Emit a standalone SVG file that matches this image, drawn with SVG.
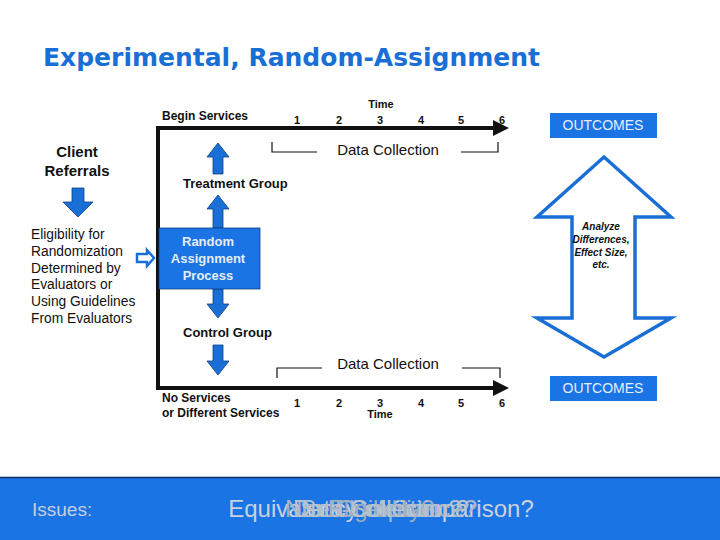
<svg xmlns="http://www.w3.org/2000/svg" width="720" height="540" viewBox="0 0 720 540">
<defs>
<style>
.title{font-family:"DejaVu Sans",sans-serif;font-weight:bold;font-size:24px;fill:#1a6fd6}
.b{font-family:"Liberation Sans",Arial,sans-serif;font-weight:bold;fill:#111}
.r{font-family:"Liberation Sans",Arial,sans-serif;fill:#111}
.ax{stroke:#111;stroke-width:4;fill:none}
.br{stroke:#111;stroke-width:1.2;fill:none}
.ba{fill:#1a6fd6;stroke:#0d3f80;stroke-width:0.8}
.box{fill:#1a74e4}
.wt{font-family:"Liberation Sans",Arial,sans-serif;fill:#e6eef8}
.iss{font-family:"Liberation Sans",Arial,sans-serif;font-size:24px;text-anchor:middle}
</style>
</defs>
<rect width="720" height="540" fill="#fff"/>
<text class="title" x="43" y="66" textLength="497" lengthAdjust="spacingAndGlyphs">Experimental, Random-Assignment</text>

<g id="connectors">
<path class="ax" d="M158 390 V128 H495"/>
<polygon points="493,120 509,128 493,136" fill="#111"/>
<path class="ax" d="M158 388 H495"/>
<polygon points="493,380 509,388 493,396" fill="#111"/>
<path class="br" d="M272 142 V152 H317"/>
<path class="br" d="M461 152 H498 V142"/>
<path class="br" d="M277 378 V368 H322"/>
<path class="br" d="M462 368 H500 V378"/>
<polygon class="ba" points="218,143 229,157 223,157 223,174 213,174 213,157 207,157"/>
<polygon class="ba" points="218,195 229,209 223,209 223,228 213,228 213,209 207,209"/>
<polygon class="ba" points="218,318 229,304 223,304 223,289 213,289 213,304 207,304"/>
<polygon class="ba" points="218,375 229,361 223,361 223,345 213,345 213,361 207,361"/>
<polygon class="ba" points="78,217 93,202 84,202 84,188 72,188 72,202 63,202"/>
<polygon points="137,254 147,254 147,250 154,258 147,266 147,262 137,262" fill="#fff" stroke="#1a6fd6" stroke-width="2.5"/>
<polygon points="604,157 671,217 635,217 635,318 671,318 604,357 537,318 572,318 572,217 537,217" fill="#fff" stroke="#1a6fd6" stroke-width="3.5" stroke-linejoin="miter"/>
</g>

<g id="begin-services"><text class="b" x="162" y="120" font-size="12">Begin Services</text></g>
<g id="time-top">
<text class="b" x="381" y="108" font-size="11" text-anchor="middle">Time</text>
<g font-size="11" text-anchor="middle">
<text class="b" x="297" y="124">1</text><text class="b" x="339" y="124">2</text><text class="b" x="380" y="124">3</text><text class="b" x="421" y="124">4</text><text class="b" x="461" y="124">5</text><text class="b" x="502" y="124">6</text>
</g>
</g>
<g id="outcomes-top"><rect class="box" x="550" y="113" width="107" height="25"/><text class="wt" x="603" y="130" font-size="14" text-anchor="middle">OUTCOMES</text></g>
<g id="data-collection-top"><text class="r" x="388" y="155" font-size="15" text-anchor="middle" fill="#222">Data Collection</text></g>
<g id="client-referrals"><text class="b" x="77" y="157" font-size="15" text-anchor="middle">Client</text><text class="b" x="77" y="176" font-size="15" text-anchor="middle">Referrals</text></g>
<g id="treatment-group"><text class="b" x="183" y="188" font-size="13">Treatment Group</text></g>
<g id="eligibility">
<text class="r" font-size="13.8"><tspan x="31" y="239">Eligibility for</tspan><tspan x="31" y="256">Randomization</tspan><tspan x="31" y="273">Determined by</tspan><tspan x="31" y="289">Evaluators or</tspan><tspan x="31" y="306">Using Guidelines</tspan><tspan x="31" y="323">From Evaluators</tspan></text>
</g>
<g id="random-assignment">
<rect x="159" y="228" width="101" height="61" fill="#1a74e4" stroke="#0d3f80" stroke-width="0.8"/>
<text class="wt" font-weight="bold" font-size="13" text-anchor="middle"><tspan x="208" y="246">Random</tspan><tspan x="208" y="263">Assignment</tspan><tspan x="208" y="280">Process</tspan></text>
</g>
<g id="analyze">
<text class="b" font-size="10" font-style="italic" text-anchor="middle"><tspan x="601" y="230">Analyze</tspan><tspan x="601" y="243">Differences,</tspan><tspan x="601" y="256">Effect Size,</tspan><tspan x="601" y="268">etc.</tspan></text>
</g>
<g id="control-group"><text class="b" x="183" y="337" font-size="13">Control Group</text></g>
<g id="data-collection-bottom"><text class="r" x="388" y="369" font-size="15" text-anchor="middle" fill="#222">Data Collection</text></g>
<g id="outcomes-bottom"><rect class="box" x="550" y="376" width="107" height="25"/><text class="wt" x="603" y="393" font-size="14" text-anchor="middle">OUTCOMES</text></g>
<g id="no-services"><text class="b" x="162" y="402" font-size="12">No Services</text><text class="b" x="162" y="417" font-size="12">or Different Services</text></g>
<g id="time-bottom">
<g font-size="11" text-anchor="middle">
<text class="b" x="297" y="407">1</text><text class="b" x="339" y="407">2</text><text class="b" x="380" y="407">3</text><text class="b" x="421" y="407">4</text><text class="b" x="461" y="407">5</text><text class="b" x="502" y="407">6</text>
</g>
<text class="b" x="380" y="418" font-size="11" text-anchor="middle">Time</text>
</g>
<g id="issues-bar">
<rect x="0" y="477" width="720" height="63" fill="#1a74e4"/>
<line x1="0" y1="477.5" x2="720" y2="477.5" stroke="#0b2f66" stroke-width="1.5"/>
<text x="32" y="516" font-family="Liberation Sans, Arial, sans-serif" font-size="19" fill="#c4cfdc">Issues:</text>
<text class="iss" x="381" y="517" fill="#c8d2de">Equivalency of Comparison?</text>
<text class="iss" x="381" y="517" fill="#a9b6c6">Non-Compliance?</text>
<text class="iss" x="381" y="517" fill="#b3bfcd">Self-Selection?</text>
<text class="iss" x="381" y="517" fill="#9fadbf">Eligibility?</text>
<text class="iss" x="381" y="517" fill="#b8c3d0">Data Collection?</text>
</g>
</svg>
